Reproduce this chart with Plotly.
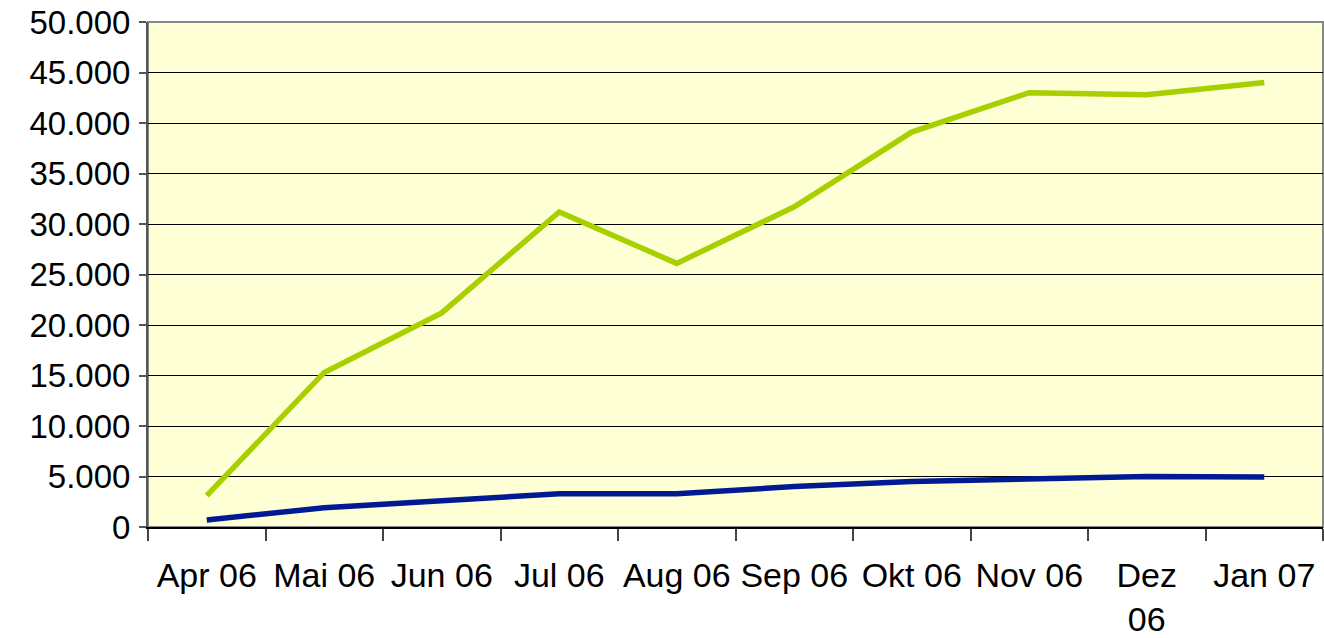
import plotly.graph_objects as go

months = ["Apr 06", "Mai 06", "Jun 06", "Jul 06", "Aug 06", "Sep 06",
          "Okt 06", "Nov 06", "Dez<br>06", "Jan 07"]
series_green = [3100, 15300, 21200, 31200, 26100, 31700, 39100, 43000, 42800, 44000]
series_blue = [700, 1900, 2600, 3300, 3300, 4000, 4500, 4700, 5000, 4950]
y_ticks = [0, 5000, 10000, 15000, 20000, 25000, 30000, 35000, 40000, 45000, 50000]

fig = go.Figure()
fig.add_trace(go.Scatter(x=months, y=series_green, mode="lines",
                         line=dict(color="#A8D000", width=5.5), showlegend=False))
fig.add_trace(go.Scatter(x=months, y=series_blue, mode="lines",
                         line=dict(color="#001A94", width=5.5), showlegend=False))

font = dict(family="Liberation Sans, Arial, sans-serif", size=33, color="black")
xfont = dict(family="Liberation Sans, Arial, sans-serif", size=34, color="black")

fig.update_layout(
    width=1324, height=638,
    margin=dict(l=148, r=1, t=22, b=111),
    paper_bgcolor="white",
    plot_bgcolor="#FFFFD5",
    separators=",.",
    font=font,
    shapes=[dict(type="rect", xref="paper", yref="paper", x0=0, x1=1, y0=0, y1=1,
                 line=dict(color="#888888", width=2), layer="below")],
)
fig.update_xaxes(
    type="category", range=[-0.5, 9.5], automargin=False,
    showgrid=False, showline=True, linecolor="black", linewidth=1.5,
    ticks="outside", tickson="boundaries", ticklen=12, tickcolor="#444",
    tickwidth=1.5, ticklabelstandoff=17, tickfont=xfont,
    ticklabeloverflow="allow",
)
fig.update_yaxes(
    range=[0, 50000], tickvals=y_ticks, tickformat=",d", automargin=False,
    showgrid=True, gridcolor="black", gridwidth=1,
    showline=True, linecolor="#555", linewidth=2,
    ticks="outside", ticklen=7, tickcolor="#555", tickwidth=1.5,
    zeroline=False, tickfont=font, ticklabelstandoff=2,
    ticklabeloverflow="allow",
)
fig.write_html(
    "out.html",
    config={"displayModeBar": False},
    post_script="document.body.style.margin='0';document.body.style.overflow='hidden';",
)
